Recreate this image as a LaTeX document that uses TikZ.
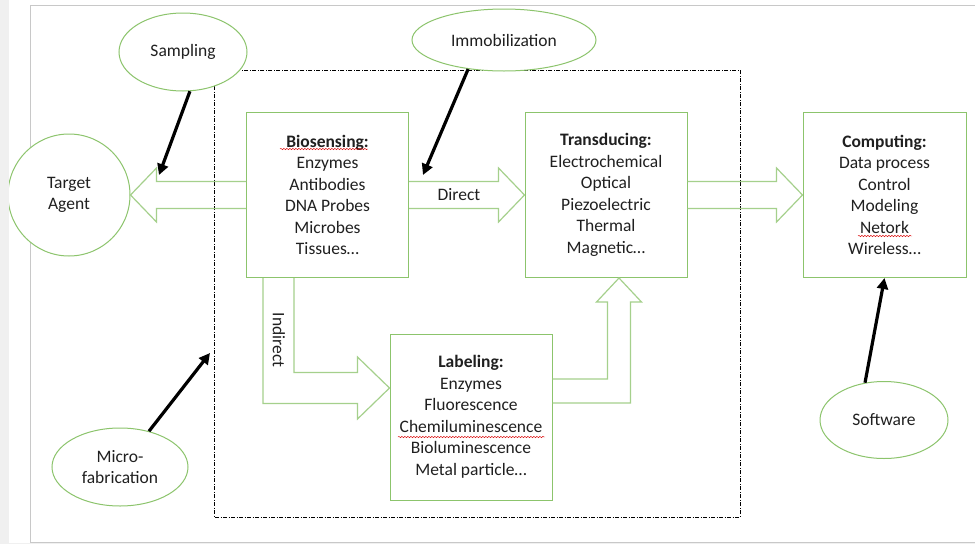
\documentclass[tikz,border=0pt]{standalone}
\usepackage{fontspec}
\setmainfont{Carlito}
\usetikzlibrary{calc,arrows.meta,shapes.geometric,decorations.pathmorphing}
\definecolor{boxgreen}{RGB}{140,196,108}
\definecolor{arrgreen}{RGB}{165,208,140}
\definecolor{txt}{RGB}{32,32,32}
\definecolor{framegray}{RGB}{200,200,200}
\definecolor{stripgray}{RGB}{240,240,240}
\begin{document}
\begin{tikzpicture}[x=1pt,y=-1pt,
  every node/.style={text=txt,font=\fontsize{17.5}{21.5}\selectfont},
  gbox/.style={draw=boxgreen,line width=1pt,fill=white,minimum width=162pt,minimum height=165pt,align=center,inner sep=0pt},
  gell/.style={draw=boxgreen,line width=1pt,fill=white,ellipse,inner sep=0pt,align=center},
  barrow/.style={draw=arrgreen,line width=1.2pt,line join=miter},
  blk/.style={draw=black,line width=3.2pt,-{Triangle[length=11pt,width=11pt]}},
  dashbox/.style={draw=black,line width=0.7pt,dash pattern=on 4pt off 1.5pt on 1pt off 1.5pt},
  squig/.style={draw=red!85!black,line width=0.45pt,decorate,decoration={snake,amplitude=0.7pt,segment length=3pt}}]
\useasboundingbox (0,0) rectangle (975,544);
% background and frame
\fill[white] (0,0) rectangle (975,544);
\draw[framegray,line width=1pt] (980,5) -- (30,5) -- (30,542) -- (980,542);
% dashed region
\draw[dashbox] (214,70) rectangle (740,517);
% boxes
\node[gbox] (bio) at (327.5,195) {\textbf{Biosensing:}\\Enzymes\\Antibodies\\DNA Probes\\Microbes\\Tissues…};
\node[gbox] (tr) at (606,195) {\textbf{Transducing:}\\Electrochemical\\Optical\\Piezoelectric\\Thermal\\Magnetic…};
\node[gbox,minimum width=163pt] (comp) at (884.5,195) {\textbf{Computing:}\\Data process\\Control\\Modeling\\Netork\\Wireless…};
\node[gbox,minimum height=166pt] (lab) at (471,417) {\textbf{Labeling:}\\Enzymes\\Fluorescence\\Chemiluminescence\\Bioluminescence\\Metal particle…};
% target circle
\node[draw=boxgreen,line width=1pt,fill=white,circle,minimum size=122pt,inner sep=0pt,align=center] (tgt) at (69,195) {Target\\Agent};
% block arrows
\draw[barrow] ($(bio.west)+(0,-13.5)$) -- ($(tgt.east)+(26,-13.5)$) -- ($(tgt.east)+(26,-27)$) -- (tgt.east) -- ($(tgt.east)+(26,27)$) -- ($(tgt.east)+(26,13.5)$) -- ($(bio.west)+(0,13.5)$);
\draw[barrow] ($(bio.east)+(0,-13.5)$) -- ($(tr.west)+(-26,-13.5)$) -- ($(tr.west)+(-26,-27)$) -- (tr.west) -- ($(tr.west)+(-26,27)$) -- ($(tr.west)+(-26,13.5)$) -- ($(bio.east)+(0,13.5)$);
\draw[barrow] ($(tr.east)+(0,-13.5)$) -- ($(comp.west)+(-26,-13.5)$) -- ($(comp.west)+(-26,-27)$) -- (comp.west) -- ($(comp.west)+(-26,27)$) -- ($(comp.west)+(-26,13.5)$) -- ($(tr.east)+(0,13.5)$);
% indirect arrow
\coordinate (ia) at ($(bio.south west)+(17,0)$);
\coordinate (ib) at ($(bio.south west)+(48,0)$);
\coordinate (itip) at ($(lab.west)+(0,-29)$);
\coordinate (ilo) at ($(itip)+(-32,15.5)$);
\coordinate (ihi) at ($(itip)+(-32,-15.5)$);
\draw[barrow] (ia) |- (ilo) -- ($(itip)+(-32,31)$) -- (itip) -- ($(itip)+(-32,-31)$) -- (ihi) -| (ib);
% up arrow labeling -> transducing
\coordinate (utip) at ($(tr.south)+(13,0)$);
\coordinate (uin) at ($(utip)+(-11.5,24)$);
\coordinate (uout) at ($(utip)+(11.5,24)$);
\draw[barrow] ($(lab.east)+(0,-14)$) -| (uout) -- ($(utip)+(22.5,24)$) -- (utip) -- ($(utip)+(-22.5,24)$) -- (uin) |- ($(lab.east)+(0,-38)$);
% labels on arrows
\node (direct) at (459,195) {Direct};
\node[rotate=-90] (indirect) at (279,340) {Indirect};
% ellipses
\node[gell,minimum width=128pt,minimum height=78pt] (samp) at (183,52) {Sampling};
\node[gell,minimum width=184pt,minimum height=62pt] (imm) at (504,40) {Immobilization};
\node[gell,minimum width=136pt,minimum height=78pt] (micro) at (120,467) {Micro-\\fabrication};
\node[gell,minimum width=128pt,minimum height=77pt] (soft) at (884,420) {Software};
% black arrows
\coordinate (sampT) at (159,175);
\coordinate (immT) at (423,175);
\coordinate (microT) at (210,353);
\draw[blk] (samp.-80) -- (sampT);
\draw[blk] (imm.-141) -- (immT);
\draw[blk] (micro.51) -- (microT);
\draw[blk] (soft.117) -- (comp.south);
% spell-check underlines
\draw[squig] (280,149) -- (368,149);
\draw[squig] (398,437) -- (545,437);
\draw[squig] (858,236) -- (912,236);
% edge strips
\fill[stripgray] (0,0) rectangle (9,544);
\fill[stripgray] (0,543) rectangle (975,544);
\end{tikzpicture}
\end{document}
